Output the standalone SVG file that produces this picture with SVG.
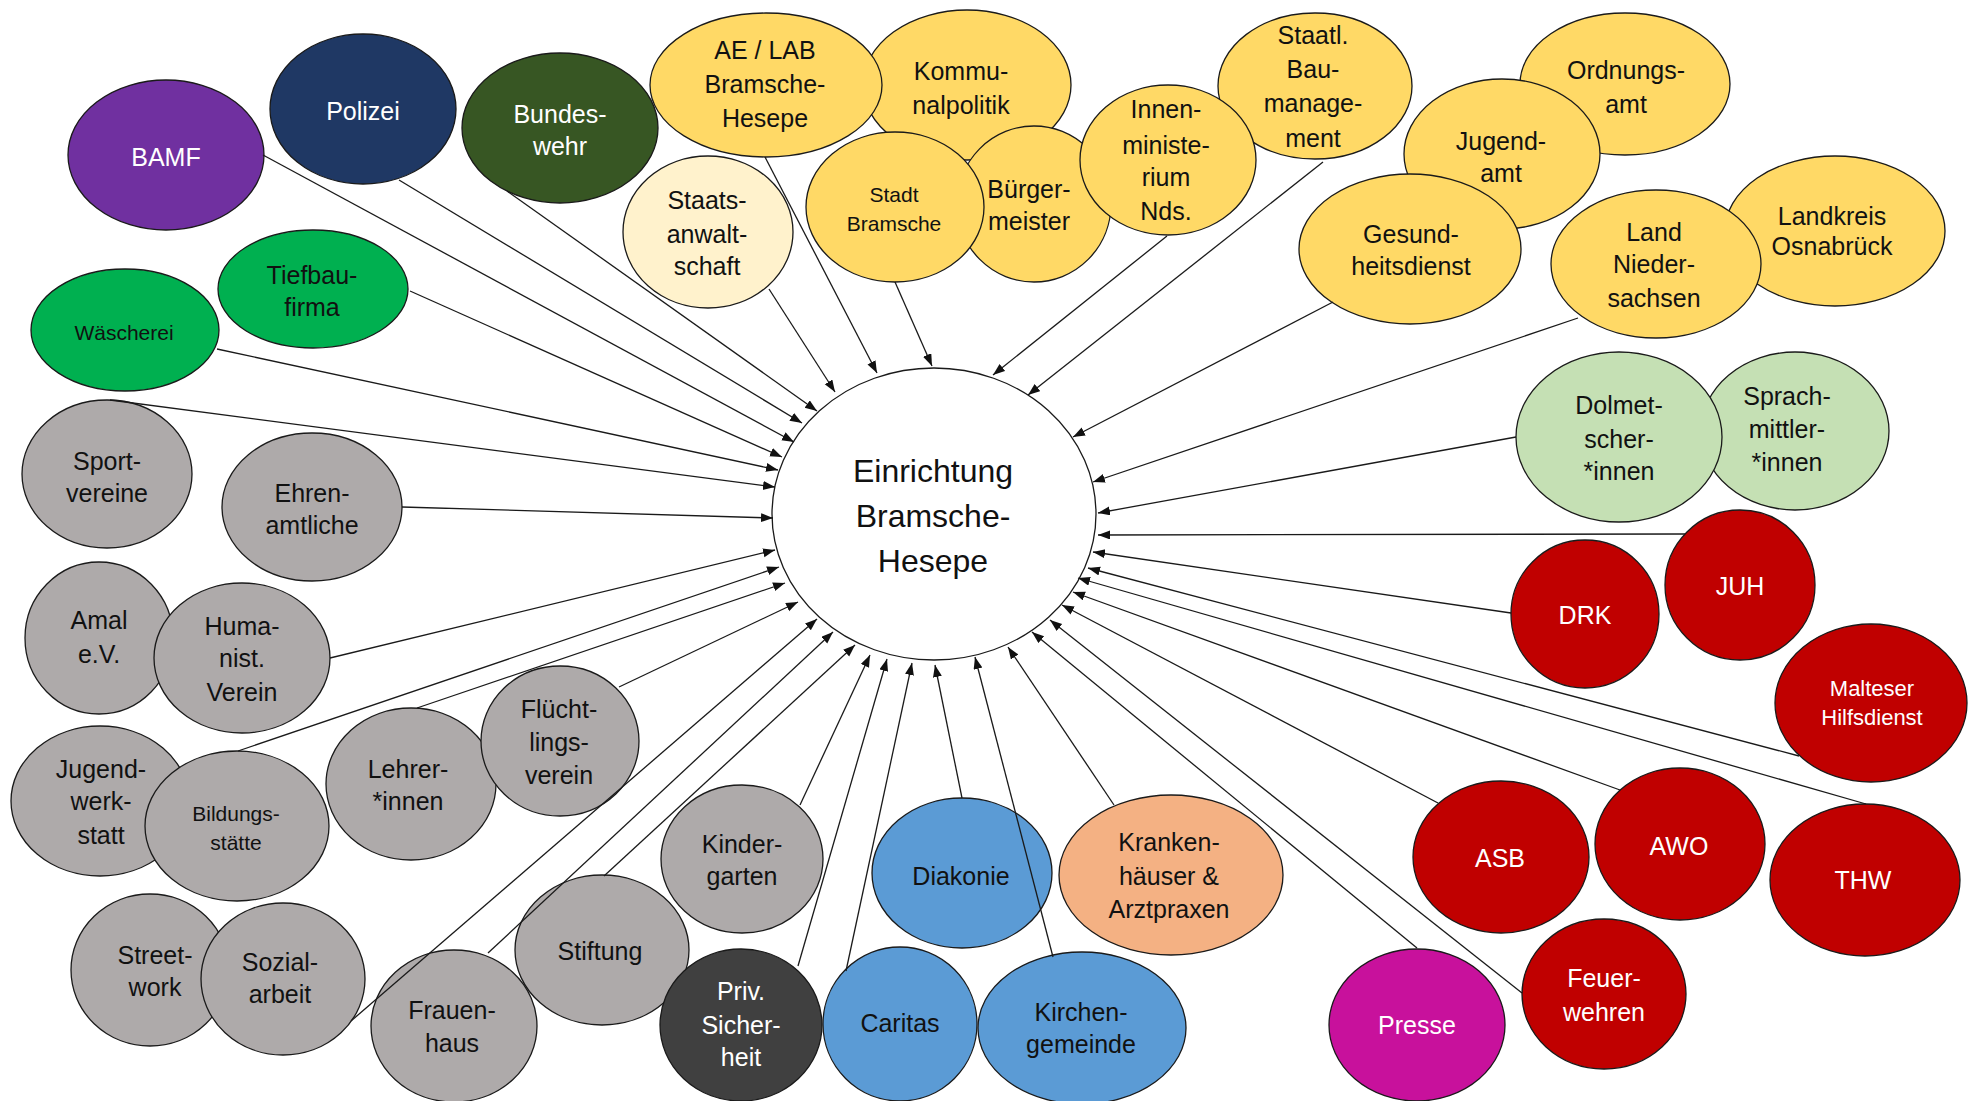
<svg xmlns="http://www.w3.org/2000/svg" width="1968" height="1101" viewBox="0 0 1968 1101">
<defs>
<marker id="ah" markerUnits="userSpaceOnUse" markerWidth="13" markerHeight="10" refX="12" refY="4.5" orient="auto">
<path d="M0,0 L12,4.5 L0,9 z" fill="#111"/>
</marker>
<style>
ellipse{stroke:#1a1a1a;stroke-width:1.3}
text{font-family:"Liberation Sans",Arial,sans-serif;font-size:25px;text-anchor:middle;fill:#111}
.w{fill:#fff}
.s{font-size:21px}
.m{font-size:22px}
.c{font-size:32px}
.yel{fill:#FFD966}
.gry{fill:#AEAAAA}
.red{fill:#C00000}
.blu{fill:#5B9BD5}
.grn{fill:#00B050}
.lgr{fill:#C5E0B4}
#links line{stroke:#1a1a1a;stroke-width:1.3;marker-end:url(#ah)}
</style>
</defs>
<rect width="1968" height="1101" fill="#fff"/>

<g id="n-bamf"><ellipse cx="166" cy="155" rx="98" ry="75" fill="#7030A0"/><text class="w" x="166" y="166">BAMF</text></g>
<g id="n-polizei"><ellipse cx="363" cy="109" rx="93" ry="75" fill="#1F3864"/><text class="w" x="363" y="120">Polizei</text></g>
<g id="n-bundeswehr"><ellipse cx="560" cy="128" rx="98" ry="75" fill="#375623"/><text class="w"><tspan x="560" y="123">Bundes-</tspan><tspan x="560" y="155">wehr</tspan></text></g>
<g id="n-waescherei"><ellipse class="grn" cx="125" cy="330" rx="94" ry="61"/><text class="s" x="124" y="340">Wäscherei</text></g>
<g id="n-tiefbau"><ellipse class="grn" cx="313" cy="289" rx="95" ry="59"/><text><tspan x="312" y="284">Tiefbau-</tspan><tspan x="312" y="316">firma</tspan></text></g>
<g id="n-sport"><ellipse class="gry" cx="107" cy="474" rx="85" ry="74"/><text><tspan x="107" y="470">Sport-</tspan><tspan x="107" y="502">vereine</tspan></text></g>
<g id="n-ehrenamt"><ellipse class="gry" cx="312" cy="507" rx="90" ry="74"/><text><tspan x="312" y="502">Ehren-</tspan><tspan x="312" y="534">amtliche</tspan></text></g>
<g id="n-amal"><ellipse class="gry" cx="99" cy="638" rx="74" ry="76"/><text><tspan x="99" y="629">Amal</tspan><tspan x="99" y="663">e.V.</tspan></text></g>
<g id="n-humanist"><ellipse class="gry" cx="242" cy="658" rx="88" ry="75"/><text><tspan x="242" y="635">Huma-</tspan><tspan x="242" y="667">nist.</tspan><tspan x="242" y="701">Verein</tspan></text></g>
<g id="n-jugendwerkstatt"><ellipse class="gry" cx="100" cy="801" rx="89" ry="75"/><text><tspan x="101" y="778">Jugend-</tspan><tspan x="101" y="810">werk-</tspan><tspan x="101" y="844">statt</tspan></text></g>
<g id="n-bildung"><ellipse class="gry" cx="237" cy="826" rx="92" ry="75"/><text class="s"><tspan x="236" y="821">Bildungs-</tspan><tspan x="236" y="850">stätte</tspan></text></g>
<g id="n-lehrer"><ellipse class="gry" cx="411" cy="784" rx="85" ry="76"/><text><tspan x="408" y="778">Lehrer-</tspan><tspan x="408" y="810">*innen</tspan></text></g>
<g id="n-fluecht"><ellipse class="gry" cx="560" cy="741" rx="79" ry="75"/><text><tspan x="559" y="718">Flücht-</tspan><tspan x="559" y="751">lings-</tspan><tspan x="559" y="784">verein</tspan></text></g>
<g id="n-streetwork"><ellipse class="gry" cx="150" cy="970" rx="79" ry="76"/><text><tspan x="155" y="964">Street-</tspan><tspan x="155" y="996">work</tspan></text></g>
<g id="n-sozial"><ellipse class="gry" cx="283" cy="979" rx="82" ry="76"/><text><tspan x="280" y="971">Sozial-</tspan><tspan x="280" y="1003">arbeit</tspan></text></g>
<g id="n-stiftung"><ellipse class="gry" cx="602" cy="950" rx="87" ry="75"/><text x="600" y="960">Stiftung</text></g>
<g id="n-frauenhaus"><ellipse class="gry" cx="454" cy="1026" rx="83" ry="76"/><text><tspan x="452" y="1019">Frauen-</tspan><tspan x="452" y="1052">haus</tspan></text></g>
<g id="n-kindergarten"><ellipse class="gry" cx="742" cy="859" rx="81" ry="74"/><text><tspan x="742" y="853">Kinder-</tspan><tspan x="742" y="885">garten</tspan></text></g>
<g id="n-priv"><ellipse cx="741" cy="1025" rx="81" ry="76" fill="#404040"/><text class="w"><tspan x="741" y="1000">Priv.</tspan><tspan x="741" y="1034">Sicher-</tspan><tspan x="741" y="1066">heit</tspan></text></g>
<g id="n-caritas"><ellipse class="blu" cx="900" cy="1024" rx="77" ry="77"/><text x="900" y="1032">Caritas</text></g>
<g id="n-kirchen"><ellipse class="blu" cx="1082" cy="1028" rx="104" ry="76"/><text><tspan x="1081" y="1021">Kirchen-</tspan><tspan x="1081" y="1053">gemeinde</tspan></text></g>
<g id="n-diakonie"><ellipse class="blu" cx="962" cy="873" rx="90" ry="75"/><text x="961" y="885">Diakonie</text></g>
<g id="n-kranken"><ellipse cx="1171" cy="875" rx="112" ry="80" fill="#F4B183"/><text><tspan x="1169" y="851">Kranken-</tspan><tspan x="1169" y="885">häuser &amp;</tspan><tspan x="1169" y="918">Arztpraxen</tspan></text></g>
<g id="n-presse"><ellipse cx="1417" cy="1025" rx="88" ry="76" fill="#C8119C"/><text class="w" x="1417" y="1034">Presse</text></g>
<g id="n-feuer"><ellipse class="red" cx="1604" cy="994" rx="82" ry="75"/><text class="w"><tspan x="1604" y="987">Feuer-</tspan><tspan x="1604" y="1021">wehren</tspan></text></g>
<g id="n-asb"><ellipse class="red" cx="1501" cy="857" rx="88" ry="76"/><text class="w" x="1500" y="867">ASB</text></g>
<g id="n-awo"><ellipse class="red" cx="1680" cy="844" rx="85" ry="76"/><text class="w" x="1679" y="855">AWO</text></g>
<g id="n-thw"><ellipse class="red" cx="1865" cy="880" rx="95" ry="76"/><text class="w" x="1863" y="889">THW</text></g>
<g id="n-malteser"><ellipse class="red" cx="1871" cy="703" rx="96" ry="79"/><text class="w m"><tspan x="1872" y="696">Malteser</tspan><tspan x="1872" y="725">Hilfsdienst</tspan></text></g>
<g id="n-drk"><ellipse class="red" cx="1585" cy="614" rx="74" ry="74"/><text class="w" x="1585" y="624">DRK</text></g>
<g id="n-juh"><ellipse class="red" cx="1740" cy="585" rx="75" ry="75"/><text class="w" x="1740" y="595">JUH</text></g>
<g id="n-sprach"><ellipse class="lgr" cx="1795" cy="431" rx="94" ry="79"/><text><tspan x="1787" y="405">Sprach-</tspan><tspan x="1787" y="438">mittler-</tspan><tspan x="1787" y="471">*innen</tspan></text></g>
<g id="n-dolmetscher"><ellipse class="lgr" cx="1619" cy="437" rx="103" ry="85"/><text><tspan x="1619" y="414">Dolmet-</tspan><tspan x="1619" y="448">scher-</tspan><tspan x="1619" y="480">*innen</tspan></text></g>
<g id="n-landkreis"><ellipse class="yel" cx="1835" cy="231" rx="110" ry="75"/><text><tspan x="1832" y="225">Landkreis</tspan><tspan x="1832" y="255">Osnabrück</tspan></text></g>
<g id="n-land"><ellipse class="yel" cx="1656" cy="264" rx="105" ry="74"/><text><tspan x="1654" y="241">Land</tspan><tspan x="1654" y="273">Nieder-</tspan><tspan x="1654" y="307">sachsen</tspan></text></g>
<g id="n-ordnungsamt"><ellipse class="yel" cx="1625" cy="84" rx="105" ry="71"/><text><tspan x="1626" y="79">Ordnungs-</tspan><tspan x="1626" y="113">amt</tspan></text></g>
<g id="n-jugendamt"><ellipse class="yel" cx="1502" cy="154" rx="98" ry="75"/><text><tspan x="1501" y="150">Jugend-</tspan><tspan x="1501" y="182">amt</tspan></text></g>
<g id="n-gesund"><ellipse class="yel" cx="1410" cy="249" rx="111" ry="75"/><text><tspan x="1411" y="243">Gesund-</tspan><tspan x="1411" y="275">heitsdienst</tspan></text></g>
<g id="n-staatlbau"><ellipse class="yel" cx="1315" cy="86" rx="97" ry="73"/><text><tspan x="1313" y="44">Staatl.</tspan><tspan x="1313" y="78">Bau-</tspan><tspan x="1313" y="112">manage-</tspan><tspan x="1313" y="147">ment</tspan></text></g>
<g id="n-kommunal"><ellipse class="yel" cx="967" cy="85" rx="104" ry="75"/><text><tspan x="961" y="80">Kommu-</tspan><tspan x="961" y="114">nalpolitik</tspan></text></g>
<g id="n-aelab"><ellipse class="yel" cx="766" cy="85" rx="116" ry="72"/><text><tspan x="765" y="59">AE / LAB</tspan><tspan x="765" y="93">Bramsche-</tspan><tspan x="765" y="127">Hesepe</tspan></text></g>
<g id="n-buergermeister"><ellipse class="yel" cx="1034" cy="204" rx="77" ry="78"/><text><tspan x="1029" y="198">Bürger-</tspan><tspan x="1029" y="230">meister</tspan></text></g>
<g id="n-innen"><ellipse class="yel" cx="1168" cy="160" rx="88" ry="75"/><text><tspan x="1166" y="118">Innen-</tspan><tspan x="1166" y="154">ministe-</tspan><tspan x="1166" y="186">rium</tspan><tspan x="1166" y="220">Nds.</tspan></text></g>
<g id="n-stadt"><ellipse class="yel" cx="895" cy="207" rx="89" ry="75"/><text class="s"><tspan x="894" y="202">Stadt</tspan><tspan x="894" y="231">Bramsche</tspan></text></g>
<g id="n-staatsanwalt"><ellipse cx="708" cy="232" rx="85" ry="76" fill="#FFF2CC"/><text><tspan x="707" y="209">Staats-</tspan><tspan x="707" y="243">anwalt-</tspan><tspan x="707" y="275">schaft</tspan></text></g>

<g id="n-center"><ellipse cx="934" cy="514" rx="162" ry="146" fill="#fff"/><text class="c"><tspan x="933" y="482">Einrichtung</tspan><tspan x="933" y="527">Bramsche-</tspan><tspan x="933" y="572">Hesepe</tspan></text></g>

<g id="links">
<line x1="263" y1="155" x2="794" y2="442"/>
<line x1="399" y1="180" x2="802" y2="423"/>
<line x1="507" y1="191" x2="817" y2="411"/>
<line x1="410" y1="291" x2="782" y2="457"/>
<line x1="217" y1="349" x2="778" y2="470"/>
<line x1="110" y1="400" x2="775" y2="487"/>
<line x1="402" y1="507" x2="773" y2="518"/>
<line x1="330" y1="658" x2="775" y2="550"/>
<line x1="238" y1="751" x2="779" y2="567"/>
<line x1="417" y1="708" x2="785" y2="583"/>
<line x1="619" y1="687" x2="798" y2="602"/>
<line x1="351" y1="1021" x2="817" y2="619"/>
<line x1="488" y1="953" x2="833" y2="632"/>
<line x1="604" y1="876" x2="855" y2="645"/>
<line x1="800" y1="805" x2="870" y2="655"/>
<line x1="798" y1="966" x2="887" y2="659"/>
<line x1="846" y1="971" x2="912" y2="663"/>
<line x1="962" y1="798" x2="935" y2="665"/>
<line x1="1053" y1="957" x2="975" y2="657"/>
<line x1="1114" y1="805" x2="1008" y2="647"/>
<line x1="1417" y1="948" x2="1032" y2="632"/>
<line x1="1522" y1="993" x2="1050" y2="620"/>
<line x1="1438" y1="803" x2="1062" y2="605"/>
<line x1="1620" y1="790" x2="1073" y2="592"/>
<line x1="1866" y1="804" x2="1078" y2="578"/>
<line x1="1799" y1="756" x2="1088" y2="568"/>
<line x1="1511" y1="613" x2="1093" y2="552"/>
<line x1="1685" y1="534" x2="1098" y2="535"/>
<line x1="1516" y1="437" x2="1098" y2="513"/>
<line x1="1578" y1="318" x2="1093" y2="482"/>
<line x1="1333" y1="302" x2="1073" y2="437"/>
<line x1="1323" y1="162" x2="1028" y2="395"/>
<line x1="1167" y1="236" x2="993" y2="375"/>
<line x1="895" y1="282" x2="932" y2="366"/>
<line x1="765" y1="157" x2="877" y2="373"/>
<line x1="769" y1="289" x2="835" y2="392"/>
</g>
</svg>
